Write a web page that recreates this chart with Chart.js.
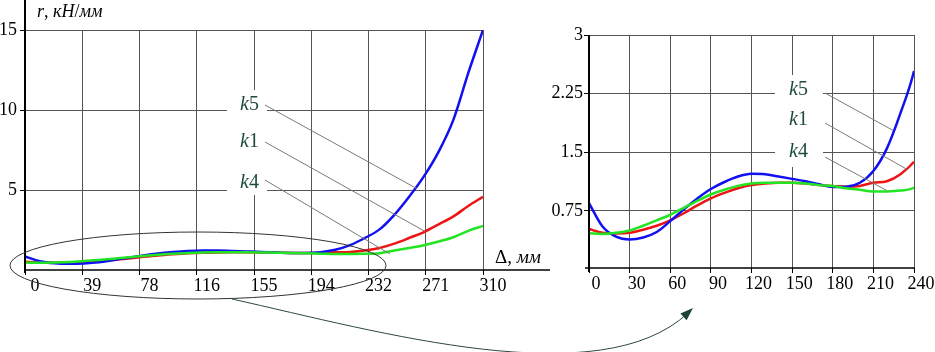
<!DOCTYPE html>
<html>
<head>
<meta charset="utf-8">
<script src="https://cdn.jsdelivr.net/npm/chart.js@4.4.1/dist/chart.umd.min.js"></script>
<style>
  html, body { margin: 0; padding: 0; background: #fff; }
  #wrap { position: relative; width: 935px; height: 352px; overflow: hidden; }
  #leftChart { position: absolute; left: 0; top: 0; }
  #rightChart { position: absolute; left: 540px; top: 0; }
</style>
</head>
<body>
<div id="wrap">
  <canvas id="leftChart" width="935" height="352"></canvas>
  <canvas id="rightChart" width="395" height="352"></canvas>
</div>
<script>
// deflection, mm
const delta = [0, 10, 20, 30, 40, 50, 60, 70, 80, 90, 100, 110, 120, 130, 140, 150,
  160, 170, 180, 190, 200, 210, 220, 230, 240, 250, 260, 270, 280, 290, 300, 310];

// stiffness r, kN/mm
const k5 = [0.85, 0.55, 0.42, 0.385, 0.41, 0.48, 0.62, 0.77, 0.91, 1.03, 1.12, 1.19, 1.225, 1.22, 1.19, 1.16,
  1.13, 1.09, 1.055, 1.06, 1.11, 1.26, 1.55, 2.0, 2.54, 3.45, 4.58, 5.85, 7.4, 9.4, 12.3, 15.0];
const k1 = [0.52, 0.47, 0.46, 0.47, 0.51, 0.56, 0.63, 0.72, 0.82, 0.91, 0.98, 1.04, 1.08, 1.10, 1.11, 1.11,
  1.10, 1.08, 1.07, 1.06, 1.07, 1.11, 1.13, 1.22, 1.38, 1.65, 2.0, 2.37, 2.85, 3.35, 4.0, 4.58];
const k4 = [0.465, 0.455, 0.47, 0.50, 0.56, 0.63, 0.70, 0.79, 0.88, 0.96, 1.02, 1.07, 1.10, 1.11, 1.11, 1.11,
  1.10, 1.08, 1.07, 1.04, 1.02, 1.0, 1.0, 1.01, 1.05, 1.22, 1.38, 1.55, 1.78, 2.05, 2.45, 2.75];

const leftXTicks = [0, 38.75, 77.5, 116.25, 155, 193.75, 232.5, 271.25, 310];
const leftXLabels = ['0', '39', '78', '116', '155', '194', '232', '271', '310'];
const leftYTicks = [5, 10, 15];
const rightXTicks = [0, 30, 60, 90, 120, 150, 180, 210, 240];
const rightYTicks = [0.75, 1.5, 2.25, 3];

const serif = "Liberation Serif, 'Liberation Serif', 'Noto Serif', 'Nimbus Roman', FreeSerif, Times, 'DejaVu Serif', serif";
const labelGreen = '#1f4b3b';

const pts = ys => delta.map((x, i) => ({ x: x, y: ys[i] }));

function series() {
  // first dataset is drawn on top
  return [
    { label: 'k4', data: pts(k4), borderColor: '#22e422' },
    { label: 'k5', data: pts(k5), borderColor: '#1010f0' },
    { label: 'k1', data: pts(k1), borderColor: '#ee1414' }
  ].map(d => Object.assign(d, {
    borderWidth: 2.5, pointRadius: 0, cubicInterpolationMode: 'monotone', fill: false
  }));
}

// text made of upright and italic pieces
function drawRich(ctx, parts, x, y, size, color) {
  ctx.save();
  ctx.fillStyle = color;
  ctx.textBaseline = 'alphabetic';
  ctx.textAlign = 'left';
  let cx = x;
  parts.forEach(([txt, it]) => {
    ctx.font = (it ? 'italic ' : '') + size + 'px ' + serif;
    ctx.fillText(txt, cx, y);
    cx += ctx.measureText(txt).width;
  });
  ctx.restore();
}

function line(ctx, x1, y1, x2, y2, color, w) {
  ctx.save();
  ctx.strokeStyle = color;
  ctx.lineWidth = w;
  ctx.beginPath();
  ctx.moveTo(x1, y1);
  ctx.lineTo(x2, y2);
  ctx.stroke();
  ctx.restore();
}

const tickFont = () => ({ family: serif, size: 18 });

// ---------- left chart ----------
const leftDeco = {
  id: 'leftDeco',
  beforeDatasetsDraw(chart) {
    const ctx = chart.ctx;
    ctx.save();
    ctx.fillStyle = '#fff';
    ctx.fillRect(227, 90, 40, 105);
    ctx.restore();
  },
  afterDatasetsDraw(chart) {
    const ctx = chart.ctx;
    const xs = chart.scales.x, ys = chart.scales.y;
    const ca = chart.chartArea;

    // leaders to the curves
    const leaders = [[105, 265, 5.1], [142, 271, 2.4], [180, 247, 1.0]];
    leaders.forEach(([sy, ex, ey]) => {
      line(ctx, 265, sy, xs.getPixelForValue(ex), ys.getPixelForValue(ey), '#7a7a7a', 1);
    });
    drawRich(ctx, [['k', true], ['5', false]], 240, 110, 20, labelGreen);
    drawRich(ctx, [['k', true], ['1', false]], 240, 147, 20, labelGreen);
    drawRich(ctx, [['k', true], ['4', false]], 240, 188, 20, labelGreen);

    // axes
    line(ctx, ca.left, 0, ca.left, ca.bottom + 3, '#000', 2);
    line(ctx, ca.left, ca.bottom, 550, ca.bottom, '#000', 1.5);
  },
  afterDraw(chart) {
    const ctx = chart.ctx;
    drawRich(ctx, [['r', true], [', ', false], ['кН', true], ['/', false], ['мм', true]], 37, 17, 18, '#000');
    drawRich(ctx, [['Δ, ', false], ['мм', true]], 495, 263, 19, '#000');

    // ellipse around the low part
    ctx.save();
    ctx.strokeStyle = '#333';
    ctx.lineWidth = 1;
    ctx.beginPath();
    ctx.ellipse(198, 265.5, 188, 33.5, 0, 0, Math.PI * 2);
    ctx.stroke();

    // arrow to the zoomed chart
    ctx.strokeStyle = '#2c4a3c';
    ctx.beginPath();
    ctx.moveTo(232, 299);
    ctx.bezierCurveTo(380, 332, 600, 395, 688, 313);
    ctx.stroke();
    const tipX = 693, tipY = 308;
    const ang = Math.atan2(308 - 395, 693 - 600);
    ctx.fillStyle = '#1f4236';
    ctx.beginPath();
    ctx.moveTo(tipX, tipY);
    ctx.lineTo(tipX - 13 * Math.cos(ang) + 4.5 * Math.sin(ang), tipY - 13 * Math.sin(ang) - 4.5 * Math.cos(ang));
    ctx.lineTo(tipX - 13 * Math.cos(ang) - 4.5 * Math.sin(ang), tipY - 13 * Math.sin(ang) + 4.5 * Math.cos(ang));
    ctx.closePath();
    ctx.fill();
    ctx.restore();
  }
};

const leftChart = new Chart(document.getElementById('leftChart'), {
  type: 'line',
  data: { datasets: series() },
  options: {
    responsive: false,
    animation: false,
    layout: { padding: { left: 0, top: 30, right: 452, bottom: 0 } },
    plugins: { legend: { display: false }, tooltip: { enabled: false } },
    scales: {
      x: {
        type: 'linear', min: 0, max: 310,
        afterBuildTicks: s => { s.ticks = leftXTicks.map(v => ({ value: v })); },
        afterFit: s => { s.height = 82; },
        ticks: {
          callback: (v, i) => leftXLabels[i],
          labelOffset: 10, padding: 0, autoSkip: false, maxRotation: 0,
          font: tickFont(), color: '#000'
        },
        grid: { color: '#555', lineWidth: 1, tickLength: 5, tickColor: '#000' },
        border: { display: false }
      },
      y: {
        type: 'linear', min: 0, max: 15,
        afterBuildTicks: s => { s.ticks = leftYTicks.map(v => ({ value: v })); },
        afterFit: s => { s.width = 25; },
        ticks: { padding: 3, font: tickFont(), color: '#000' },
        grid: { color: '#555', lineWidth: 1, tickLength: 5, tickColor: '#000' },
        border: { display: false }
      }
    }
  },
  plugins: [leftDeco]
});

// ---------- right chart (zoomed part) ----------
const rightDeco = {
  id: 'rightDeco',
  beforeDatasetsDraw(chart) {
    const ctx = chart.ctx;
    ctx.save();
    ctx.fillStyle = '#fff';
    ctx.fillRect(235, 75, 48, 92);
    ctx.restore();
  },
  afterDatasetsDraw(chart) {
    const ctx = chart.ctx;
    const xs = chart.scales.x, ys = chart.scales.y;
    const ca = chart.chartArea;

    const leaders = [[93, 224.5, 1.78], [123, 235, 1.28], [157, 220, 1.01]];
    leaders.forEach(([sy, ex, ey]) => {
      line(ctx, 285, sy, xs.getPixelForValue(ex), ys.getPixelForValue(ey), '#7a7a7a', 1);
    });
    drawRich(ctx, [['k', true], ['5', false]], 249, 95, 20, labelGreen);
    drawRich(ctx, [['k', true], ['1', false]], 249, 125, 20, labelGreen);
    drawRich(ctx, [['k', true], ['4', false]], 249, 157, 20, labelGreen);

    line(ctx, ca.left, ca.top, ca.left, ca.bottom + 4, '#000', 2);
    line(ctx, ca.left - 4, ca.bottom, ca.right + 1, ca.bottom, '#000', 1.5);
  }
};

const rightChart = new Chart(document.getElementById('rightChart'), {
  type: 'line',
  data: { datasets: series() },
  options: {
    responsive: false,
    animation: false,
    layout: { padding: { left: 0, top: 35, right: 21, bottom: 0 } },
    plugins: { legend: { display: false }, tooltip: { enabled: false } },
    scales: {
      x: {
        type: 'linear', min: 0, max: 240,
        afterBuildTicks: s => { s.ticks = rightXTicks.map(v => ({ value: v })); },
        afterFit: s => { s.height = 84; },
        ticks: {
          labelOffset: 7, padding: 0, autoSkip: false, maxRotation: 0,
          font: tickFont(), color: '#000'
        },
        grid: { color: '#555', lineWidth: 1, tickLength: 5, tickColor: '#000' },
        border: { display: false }
      },
      y: {
        type: 'linear', min: 0.02, max: 3,
        afterBuildTicks: s => { s.ticks = rightYTicks.map(v => ({ value: v })); },
        afterFit: s => { s.width = 49; },
        ticks: { padding: 1, font: tickFont(), color: '#000', callback: v => String(v) },
        grid: { color: '#555', lineWidth: 1, tickLength: 5, tickColor: '#000' },
        border: { display: false }
      }
    }
  },
  plugins: [rightDeco]
});
</script>
</body>
</html>
